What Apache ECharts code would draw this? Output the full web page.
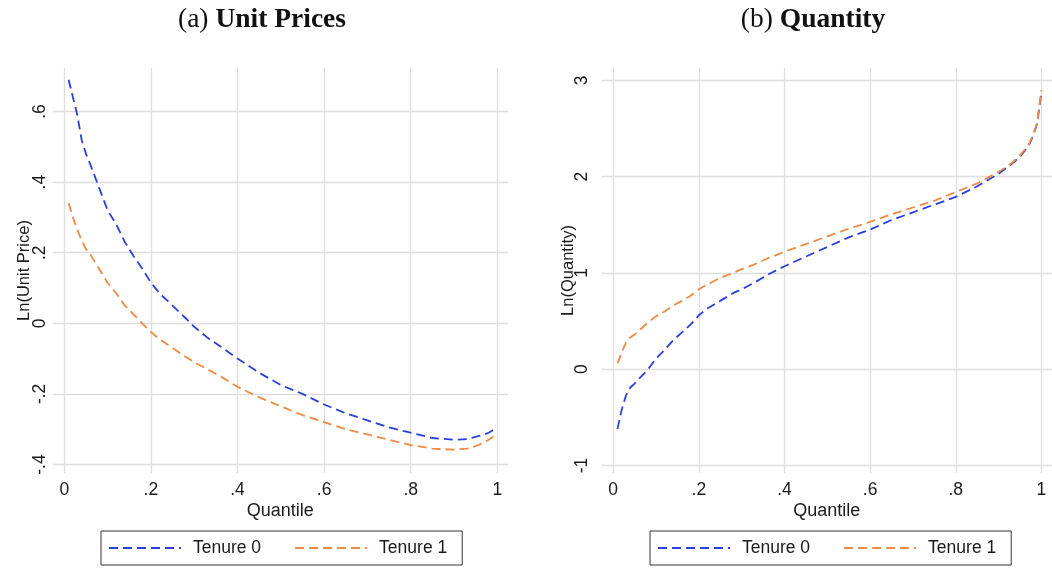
<!DOCTYPE html>
<html>
<head>
<meta charset="utf-8">
<title>Unit Prices and Quantity by Quantile</title>
<script src="https://cdn.jsdelivr.net/npm/echarts@6/dist/echarts.min.js"></script>
<style>
  html, body { margin: 0; padding: 0; background: #ffffff; }
  #chart { width: 1052px; height: 569px; }
</style>
</head>
<body>
<div id="chart"></div>
<script>
// Quantiles at which both panels are evaluated
const quantiles = [0.01, 0.02, 0.03, 0.04, 0.05, 0.06, 0.08, 0.10, 0.12, 0.14, 0.16, 0.18,
  0.20, 0.22, 0.25, 0.28, 0.30, 0.33, 0.36, 0.40, 0.45, 0.50, 0.55, 0.60, 0.65, 0.70,
  0.75, 0.80, 0.85, 0.90, 0.93, 0.95, 0.97, 0.98, 0.99, 1.00];

// Panel (a): Ln(Unit Price)
const priceTenure0 = [0.69, 0.64, 0.59, 0.52, 0.48, 0.45, 0.385, 0.32, 0.28, 0.23, 0.19, 0.155,
  0.115, 0.085, 0.05, 0.015, -0.01, -0.04, -0.065, -0.10, -0.14, -0.175, -0.20, -0.23, -0.255, -0.275,
  -0.295, -0.31, -0.325, -0.33, -0.328, -0.322, -0.315, -0.31, -0.303, -0.297];
const priceTenure1 = [0.34, 0.30, 0.265, 0.235, 0.21, 0.195, 0.155, 0.115, 0.085, 0.05, 0.025, 0.0,
  -0.025, -0.045, -0.07, -0.095, -0.11, -0.13, -0.15, -0.18, -0.21, -0.235, -0.26, -0.28, -0.30, -0.315,
  -0.33, -0.345, -0.355, -0.358, -0.355, -0.348, -0.337, -0.33, -0.322, -0.315];

// Panel (b): Ln(Quantity)
const qtyTenure0 = [-0.62, -0.42, -0.27, -0.19, -0.15, -0.10, -0.01, 0.11, 0.20, 0.30, 0.38, 0.46,
  0.56, 0.63, 0.71, 0.79, 0.83, 0.90, 0.98, 1.07, 1.17, 1.27, 1.37, 1.45, 1.55, 1.63,
  1.71, 1.79, 1.90, 2.03, 2.13, 2.21, 2.32, 2.42, 2.55, 2.88];
const qtyTenure1 = [0.06, 0.17, 0.28, 0.33, 0.36, 0.40, 0.48, 0.55, 0.60, 0.66, 0.71, 0.76,
  0.83, 0.88, 0.95, 1.00, 1.04, 1.09, 1.15, 1.22, 1.30, 1.38, 1.46, 1.53, 1.61, 1.68,
  1.75, 1.84, 1.93, 2.05, 2.14, 2.22, 2.33, 2.43, 2.56, 2.90];

// Tick positions
const xTicks = [0, 0.2, 0.4, 0.6, 0.8, 1];
const priceTicks = [-0.4, -0.2, 0, 0.2, 0.4, 0.6];
const qtyTicks = [-1, 0, 1, 2, 3];

const seriesNames = ['Tenure 0', 'Tenure 1'];
const panelTitles = ['Unit Prices', 'Quantity'];

const BLUE = '#2a3fdc';
const ORANGE = '#ee8a44';
const GRID = '#dedede';
const INK = '#1a1a1a';
const SANS = 'Liberation Sans, Arial, Helvetica, sans-serif';
const SERIF = 'Liberation Serif, Times New Roman, serif';

// Stata-style number: drop the leading zero (.2, -.4)
function stataNum(v) {
  const r = Math.round(v * 1000) / 1000;
  if (r === 0) return '0';
  return String(r).replace(/^(-?)0\./, '$1.');
}

function pairs(xs, ys) {
  return xs.map((x, i) => [x, ys[i]]);
}

function xAxisFor(gridIndex) {
  return {
    type: 'value', gridIndex,
    min: -0.0268, max: 1.0247,
    name: 'Quantile', nameLocation: 'middle', nameGap: 29, nameMoveOverlap: false,
    nameTextStyle: { fontFamily: SANS, fontSize: 18, color: INK },
    axisLine: { show: false },
    axisTick: { show: false, customValues: xTicks },
    axisLabel: { customValues: xTicks, formatter: stataNum, margin: 8,
      fontFamily: SANS, fontSize: 17.5, color: INK },
    splitLine: { show: true, lineStyle: { color: GRID, width: 1.3 } }
  };
}

function yAxisFor(gridIndex, min, max, ticks, name, nameGap, labelMargin) {
  return {
    type: 'value', gridIndex, min, max,
    name, nameLocation: 'middle', nameGap, nameRotate: 90, nameMoveOverlap: false,
    nameTextStyle: { fontFamily: SANS, fontSize: 16.5, color: INK },
    axisLine: { show: false },
    axisTick: { show: false, customValues: ticks },
    axisLabel: { customValues: ticks, formatter: stataNum, rotate: 90, margin: labelMargin,
      fontFamily: SANS, fontSize: 17.5, color: INK },
    splitLine: { show: true, lineStyle: { color: GRID, width: 1.3 } }
  };
}

function lineSeries(name, color, xIdx, data) {
  return {
    type: 'line', name, xAxisIndex: xIdx, yAxisIndex: xIdx,
    data, symbol: 'none', smooth: false, animation: false,
    lineStyle: { color, width: 1.8, type: [9, 5] },
    itemStyle: { color }
  };
}

function legendAt(left) {
  return {
    data: seriesNames, left, top: 531, orient: 'horizontal',
    itemWidth: 72, itemHeight: 18, itemGap: 33,
    padding: [8, 15, 8, 7],
    borderColor: '#333333', borderWidth: 1,
    // dashed line sample only, no marker
    itemStyle: { color: 'rgba(0,0,0,0)', borderWidth: 0, opacity: 0 },
    textStyle: { fontFamily: SANS, fontSize: 17.5, color: INK, padding: [0, 0, 0, 7] },
    selectedMode: false
  };
}

function titleAt(x, tag, label) {
  return {
    text: '{n|(' + tag + ') }{b|' + label + '}',
    left: x, top: 1, textAlign: 'center',
    textStyle: {
      fontWeight: 'normal',
      rich: {
        n: { fontFamily: SERIF, fontSize: 27.5, fontWeight: 'normal', color: '#111111' },
        b: { fontFamily: SERIF, fontSize: 27.5, fontWeight: 'bold', color: '#111111' }
      }
    }
  };
}

const chart = echarts.init(document.getElementById('chart'), null, { renderer: 'canvas' });

chart.setOption({
  backgroundColor: '#ffffff',
  animation: false,
  title: [titleAt(257, 'a', panelTitles[0]), titleAt(808, 'b', panelTitles[1])],
  legend: [legendAt(101), legendAt(650)],
  grid: [
    { left: 52.7, top: 68, width: 455.3, height: 405, containLabel: false },
    { left: 601.7, top: 68, width: 455.3, height: 405, containLabel: false }
  ],
  xAxis: [xAxisFor(0), xAxisFor(1)],
  yAxis: [
    yAxisFor(0, -0.4241, 0.7232, priceTicks, 'Ln(Unit Price)', 19.5, 4),
    yAxisFor(1, -1.078, 3.129, qtyTicks, 'Ln(Quantity)', 25, 10.5)
  ],
  series: [
    lineSeries(seriesNames[0], BLUE, 0, pairs(quantiles, priceTenure0)),
    lineSeries(seriesNames[1], ORANGE, 0, pairs(quantiles, priceTenure1)),
    lineSeries(seriesNames[0], BLUE, 1, pairs(quantiles, qtyTenure0)),
    lineSeries(seriesNames[1], ORANGE, 1, pairs(quantiles, qtyTenure1))
  ]
});
</script>
</body>
</html>
